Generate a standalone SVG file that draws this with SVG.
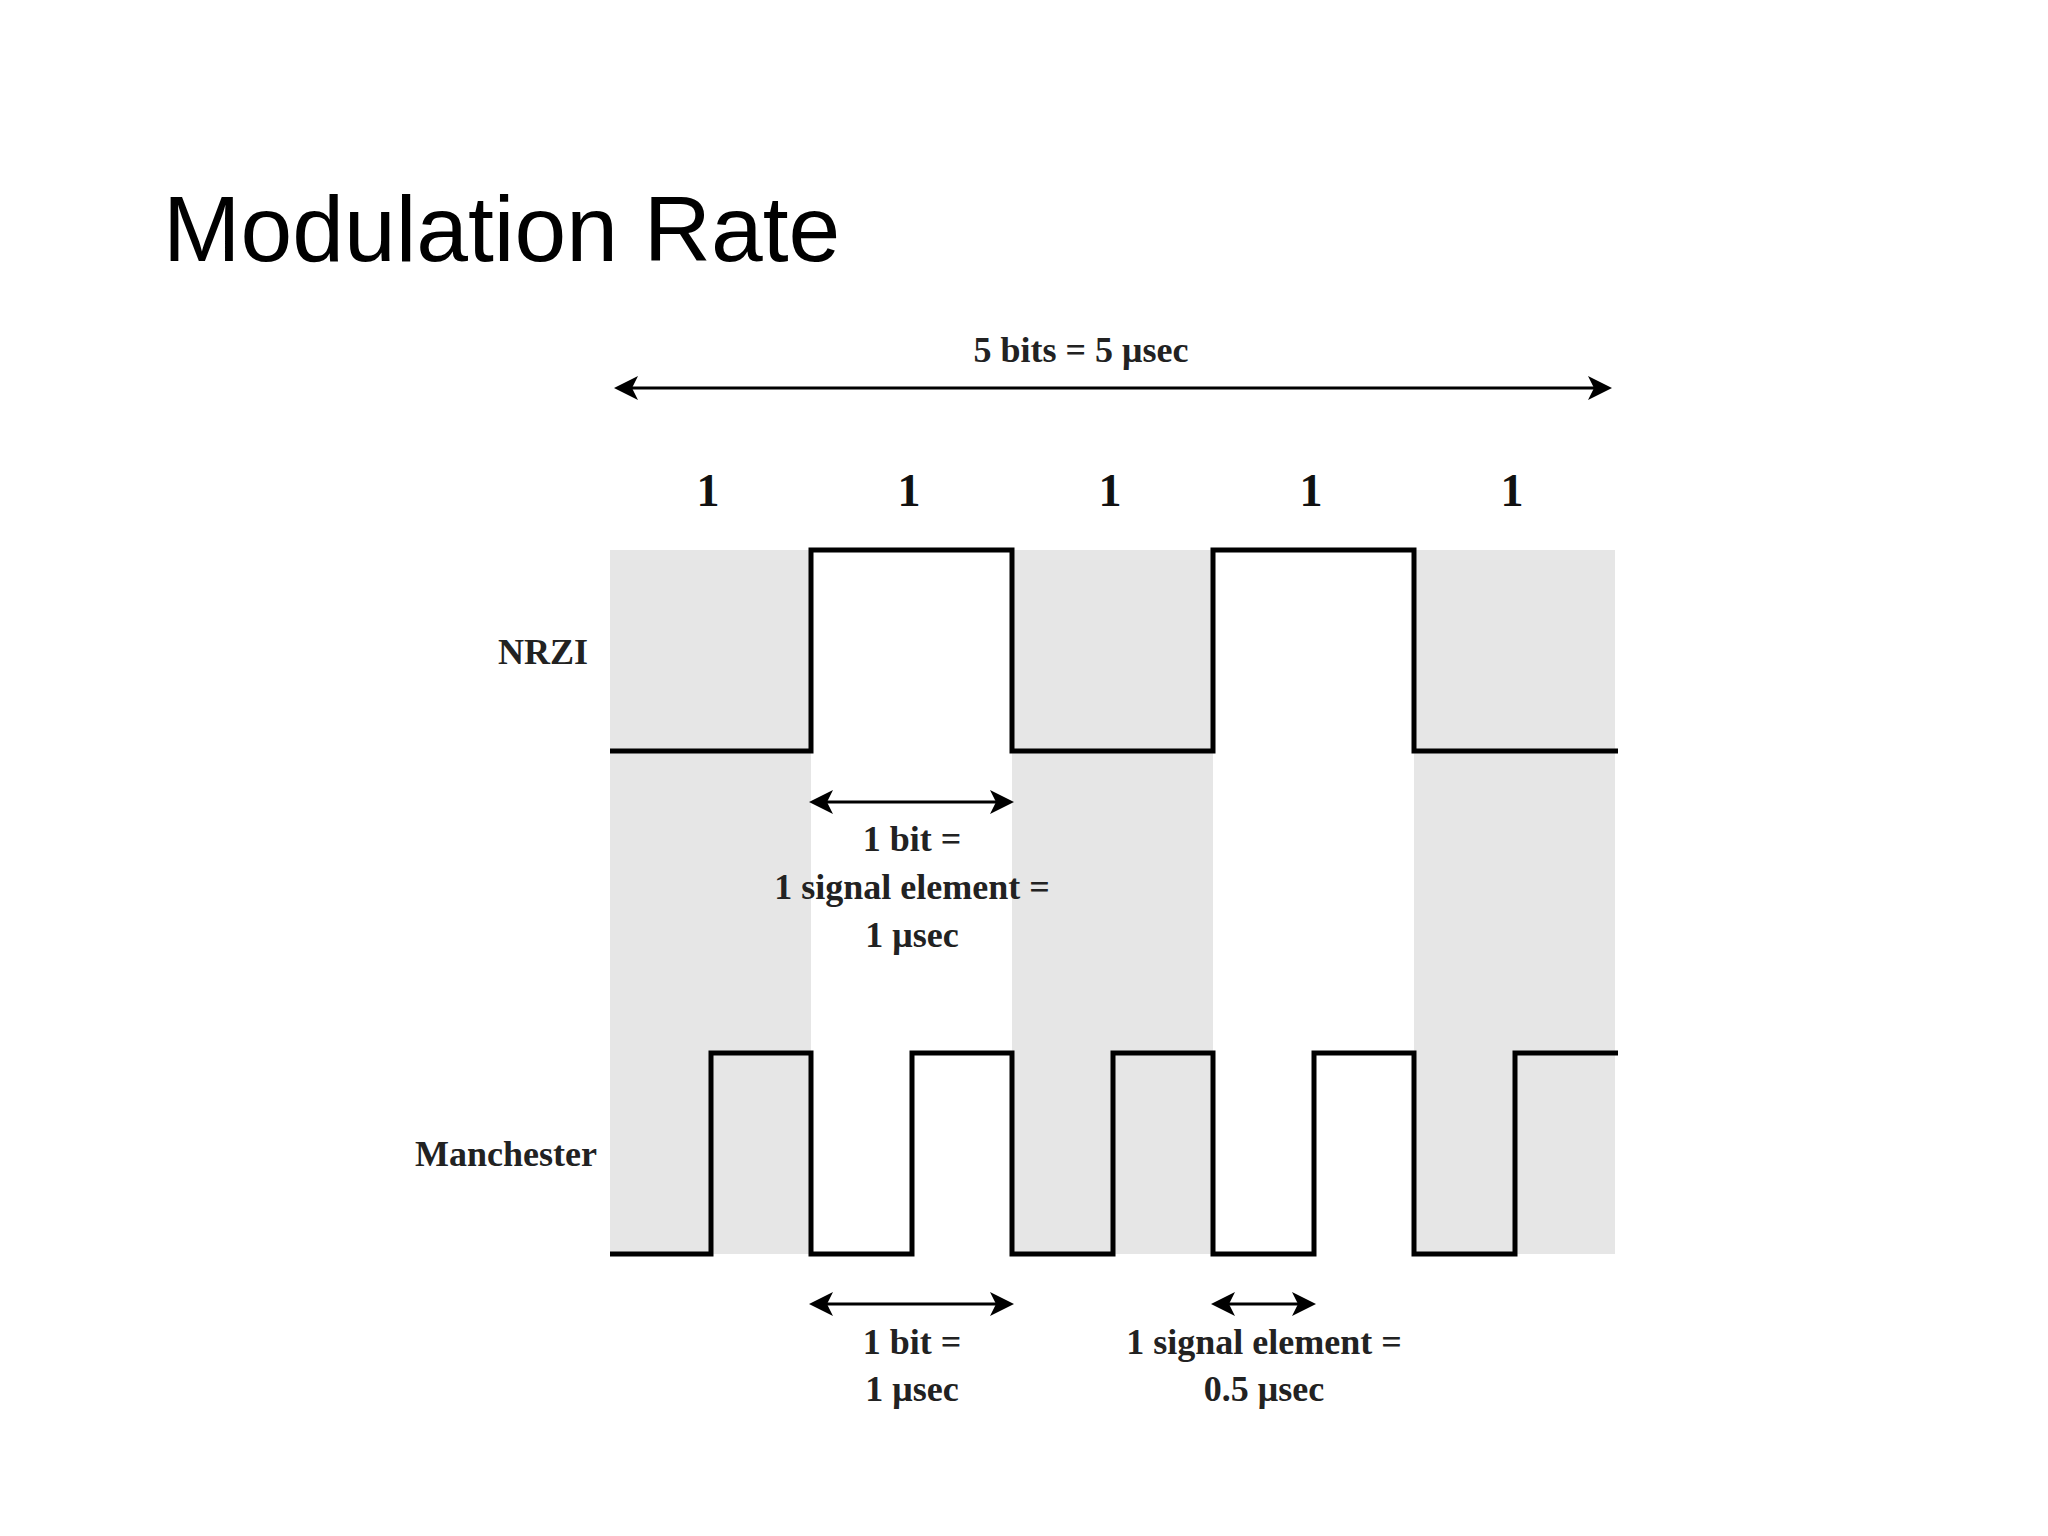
<svg xmlns="http://www.w3.org/2000/svg" width="2048" height="1536" viewBox="0 0 2048 1536">
<defs>
<style>
.t{font-family:"Liberation Serif",serif;font-weight:bold;font-size:36px;fill:#222;text-anchor:middle}
.r{text-anchor:end}
.b{font-size:46px;fill:#111}
.w{fill:none;stroke:#000;stroke-width:5}
.a{stroke:#000;stroke-width:3;fill:none}
.g{fill:#e6e6e6}
</style>
<marker id="ah" viewBox="0 0 12 12" refX="10" refY="6" markerWidth="24" markerHeight="24" orient="auto-start-reverse" markerUnits="userSpaceOnUse"><path d="M0,0 L12,6 L0,12 L3,6 Z" fill="#000"/></marker>
</defs>
<rect width="2048" height="1536" fill="#fff"/>
<text x="163" y="261" font-family="Liberation Sans,Arial,sans-serif" font-size="93" fill="#000">Modulation Rate</text>
<g id="bands">
<rect class="g" x="610" y="550" width="201" height="704"/>
<rect class="g" x="1012" y="550" width="201" height="704"/>
<rect class="g" x="1414" y="550" width="201" height="704"/>
</g>
<g id="labels">
<text class="t" x="1081" y="362">5 bits = 5 μsec</text>
<text class="t b" x="708" y="506">1</text>
<text class="t b" x="909" y="506">1</text>
<text class="t b" x="1110" y="506">1</text>
<text class="t b" x="1311" y="506">1</text>
<text class="t b" x="1512" y="506">1</text>
<text class="t r" x="588" y="664">NRZI</text>
<text class="t r" x="597" y="1166">Manchester</text>
<text class="t" x="912" y="851">1 bit =</text>
<text class="t" x="912" y="899">1 signal element =</text>
<text class="t" x="912" y="947">1 μsec</text>
<text class="t" x="912" y="1354">1 bit =</text>
<text class="t" x="912" y="1401">1 μsec</text>
<text class="t" x="1264" y="1354">1 signal element =</text>
<text class="t" x="1264" y="1401">0.5 μsec</text>
</g>
<g id="waveforms">
<path class="w" d="M610,751 H811 V550 H1012 V751 H1213 V550 H1414 V751 H1618"/>
<path class="w" d="M610,1254 H711 V1053 H811 V1254 H912 V1053 H1012 V1254 H1113 V1053 H1213 V1254 H1314 V1053 H1414 V1254 H1515 V1053 H1618"/>
</g>
<g id="connectors">
<line class="a" x1="618" y1="388" x2="1608" y2="388" marker-start="url(#ah)" marker-end="url(#ah)"/>
<line class="a" x1="813" y1="802" x2="1010" y2="802" marker-start="url(#ah)" marker-end="url(#ah)"/>
<line class="a" x1="813" y1="1304" x2="1010" y2="1304" marker-start="url(#ah)" marker-end="url(#ah)"/>
<line class="a" x1="1215" y1="1304" x2="1312" y2="1304" marker-start="url(#ah)" marker-end="url(#ah)"/>
</g>
</svg>
